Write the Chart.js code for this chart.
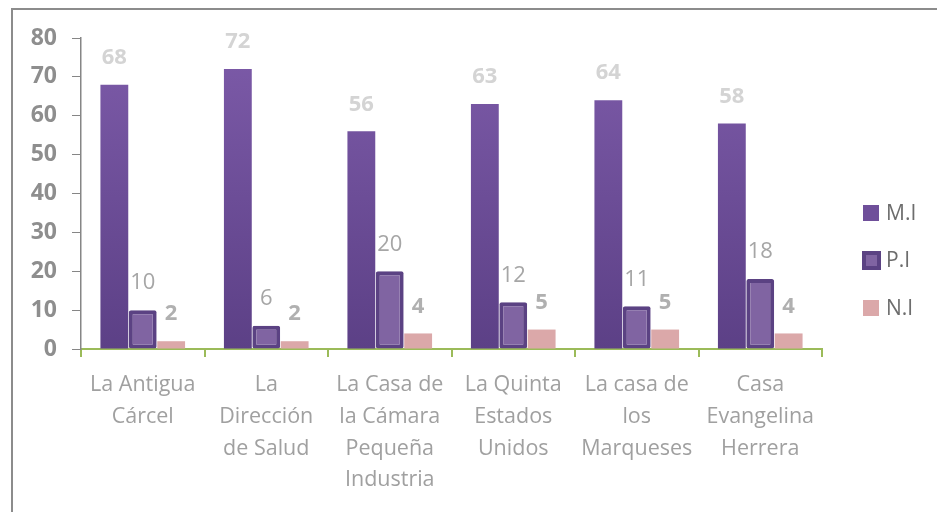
<!DOCTYPE html>
<html>
<head>
<meta charset="utf-8">
<script src="https://cdn.jsdelivr.net/npm/chart.js@4"></script>
<style>
  html, body { margin: 0; padding: 0; background: #fff; }
  #wrap { width: 937px; height: 512px; position: relative; }
</style>
</head>
<body>
<div id="wrap"><canvas id="chart" width="937" height="512"></canvas></div>
<script>
// Sites and counts per category (M.I / P.I / N.I)
const SITES = [
  ["La Antigua", "Cárcel"],
  ["La", "Dirección", "de Salud"],
  ["La Casa de", "la Cámara", "Pequeña", "Industria"],
  ["La Quinta", "Estados", "Unidos"],
  ["La casa de", "los", "Marqueses"],
  ["Casa", "Evangelina", "Herrera"],
];
const MI = [68, 72, 56, 63, 64, 58];
const PI = [10, 6, 20, 12, 11, 18];
const NI = [2, 2, 4, 5, 5, 4];
const Y_TICKS = [0, 10, 20, 30, 40, 50, 60, 70, 80];

const FONT = "'Open Sans', 'DejaVu Sans', sans-serif";
// label style per series: [weight, colour]
const LABEL_STYLE = [["bold", "#d4d4d4"], ["normal", "#a6a6a6"], ["bold", "#b0b0b0"]];

const ctx = document.getElementById("chart").getContext("2d");

function miGradient(c) {
  const area = c.chart.chartArea;
  if (!area) return "#6f4f9a";
  const g = c.chart.ctx.createLinearGradient(0, area.top, 0, area.bottom);
  g.addColorStop(0, "#7d5ba9");
  g.addColorStop(1, "#5c4086");
  return g;
}

// outer frame + bar value labels + legend on the right
const extras = {
  id: "extras",
  beforeDraw(chart) {
    const c = chart.ctx;
    c.save();
    c.strokeStyle = "#8c8c8c";
    c.lineWidth = 2;
    c.strokeRect(12, 9, 1200, 1200);
    c.restore();
  },
  afterDatasetsDraw(chart) {
    const c = chart.ctx;
    c.save();
    c.textAlign = "center";
    c.textBaseline = "middle";
    chart.data.datasets.forEach((ds, i) => {
      const [w, col] = LABEL_STYLE[i];
      c.font = `${w} 22px ${FONT}`;
      chart.getDatasetMeta(i).data.forEach((bar, j) => {
        c.fillStyle = col;
        c.fillText(ds.data[j], bar.x, bar.y - 27);
      });
    });
    // legend
    const ys = [213, 260, 308];
    chart.data.datasets.forEach((ds, i) => {
      const y = ys[i];
      if (i === 1) {
        c.fillStyle = "#5b4283";
        c.fillRect(862, y - 9, 19, 19);
        c.fillStyle = "#8064a2";
        c.fillRect(866, y - 5, 11, 11);
      } else {
        c.fillStyle = i === 0 ? "#6f4f9a" : "#dba8a9";
        c.fillRect(863, y - 8, 16, 16);
      }
      c.fillStyle = "#6d6d6d";
      c.font = `21px ${FONT}`;
      c.textAlign = "left";
      c.fillText(ds.label, 886, y + 1);
    });
    c.restore();
  },
};

new Chart(ctx, {
  type: "bar",
  data: {
    labels: SITES,
    datasets: [
      { label: "M.I", data: MI, backgroundColor: miGradient },
      { label: "P.I", data: PI, backgroundColor: "#8064a2", borderColor: "#5b4283", borderWidth: 4, borderRadius: 2, borderSkipped: false },
      { label: "N.I", data: NI, backgroundColor: "#dba8a9" },
    ],
  },
  options: {
    responsive: false,
    animation: false,
    layout: { padding: { top: 38, left: 11, right: 115, bottom: 0 } },
    datasets: { bar: { categoryPercentage: 0.69, barPercentage: 0.98 } },
    plugins: { legend: { display: false }, tooltip: { enabled: false } },
    scales: {
      x: {
        offset: true,
        afterFit: s => { s.height = 163; },
        grid: { display: true, offset: true, drawOnChartArea: false, color: "#9bbb59", tickLength: 8, lineWidth: 2 },
        border: { color: "#9bbb59", width: 2 },
        ticks: { color: "#a0a0a0", font: { family: FONT, size: 21.5, lineHeight: 1.48 }, padding: 12, maxRotation: 0, autoSkip: false },
      },
      y: {
        min: 0, max: 80,
        afterFit: s => { s.width = 70; },
        afterBuildTicks: s => { s.ticks = Y_TICKS.map(v => ({ value: v })); },
        grid: { display: true, drawOnChartArea: false, color: "#868686", tickLength: 9 },
        border: { color: "#868686", width: 1.5 },
        ticks: { color: "#8e8e8e", font: { family: FONT, size: 23, weight: "bold" }, padding: 15 },
      },
    },
  },
  plugins: [extras],
});
</script>
</body>
</html>
